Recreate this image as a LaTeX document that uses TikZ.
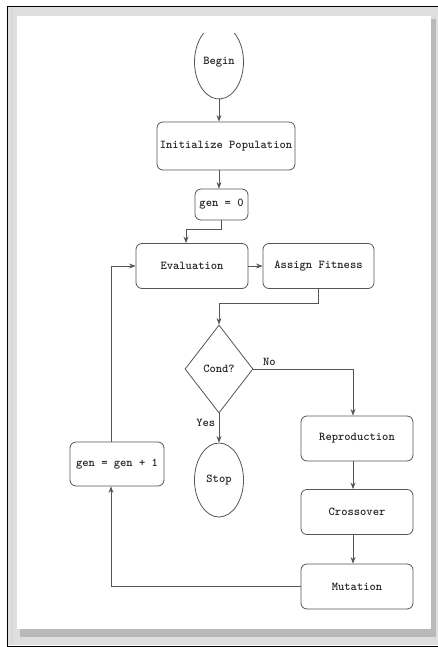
\documentclass[tikz,border=0pt]{standalone}
\usetikzlibrary{arrows.meta,shapes.geometric,calc}
\definecolor{linegray}{HTML}{555555}
\tikzset{>=Stealth,every node/.style={font=\fontsize{12}{14}\selectfont\ttfamily\bfseries,text=black!85},flow/.style={draw=linegray,line width=.8pt,->},edge/.style={draw=linegray,line width=.8pt}}
\tikzset{stepbox/.style={edge,rounded corners=6pt,minimum width=112pt,minimum height=45pt,inner sep=2pt},term/.style={edge,ellipse,minimum width=49pt,minimum height=74pt,inner sep=0pt},test/.style={edge,diamond,minimum width=68pt,minimum height=88pt,inner sep=0pt}}
\begin{document}
\begin{tikzpicture}[x=1pt,y=-1pt]
\useasboundingbox (0,0) rectangle (438,647);
% cadre
\fill[gray!25] (8,7) rectangle (438,645);\fill[white!70!gray] (11,9) rectangle (13,643);\fill[gray!55] (20,19) rectangle (436,637);\fill[white] (17,16) rectangle (431,629);
\draw[line width=.8pt] (438,6.5)--(7,6.5)--(7,646)--(438,646);
% ellipse du debut, coupee en haut
\node[term,draw=none] (begin) at (219,62){Begin};\draw[edge] ($(begin.center)+(-15.2,-29)$) arc[start angle=128.4,end angle=411.6,x radius=24.5pt,y radius=37pt];
\node[stepbox,minimum width=138pt,minimum height=48pt] (init) at (226,146){Initialize Population};
\node[stepbox,minimum width=53pt,minimum height=31pt] (gen0) at (221.5,204.5){gen = 0};
\node[stepbox] (eval) at (192,266){Evaluation};\node[stepbox,minimum width=111pt] (fit) at (318.5,266){Assign Fitness};
\node[test] (cond) at (219,369){Cond?};\node[term] (stop) at (219,480){Stop};
\node[stepbox] (repro) at (357,438.5){Reproduction};\node[stepbox] (cross) at (357,512){Crossover};\node[stepbox] (mut) at (357,586.5){Mutation};
\node[stepbox,minimum width=94pt,minimum height=44pt] (inc) at (117,464){gen = gen + 1};
\draw[flow] (begin.south)--(begin|-init.north);\draw[flow] (begin|-init.south)--(begin|-gen0.north);
\draw[flow] (gen0.south)--++(0,9)-|([xshift=-6pt]eval.north);\draw[flow] (eval)--(fit);
\draw[flow] (fit.south)--++(0,14)-|(cond.north);
\draw[flow] (cond.east)-|([xshift=-4pt]repro.north) node[pos=.08,above]{No};\draw[flow] (cond.south)--(stop.north) node[pos=.33,left]{Yes};
\draw[flow] ([xshift=-4pt]repro.south)--([xshift=-4pt]cross.north);\draw[flow] ([xshift=-4pt]cross.south)--([xshift=-4pt]mut.north);
\draw[flow] (mut.west)-|([xshift=-6pt]inc.south);\draw[flow] ([xshift=-6pt]inc.north)|-(eval.west);
\end{tikzpicture}
\end{document}
